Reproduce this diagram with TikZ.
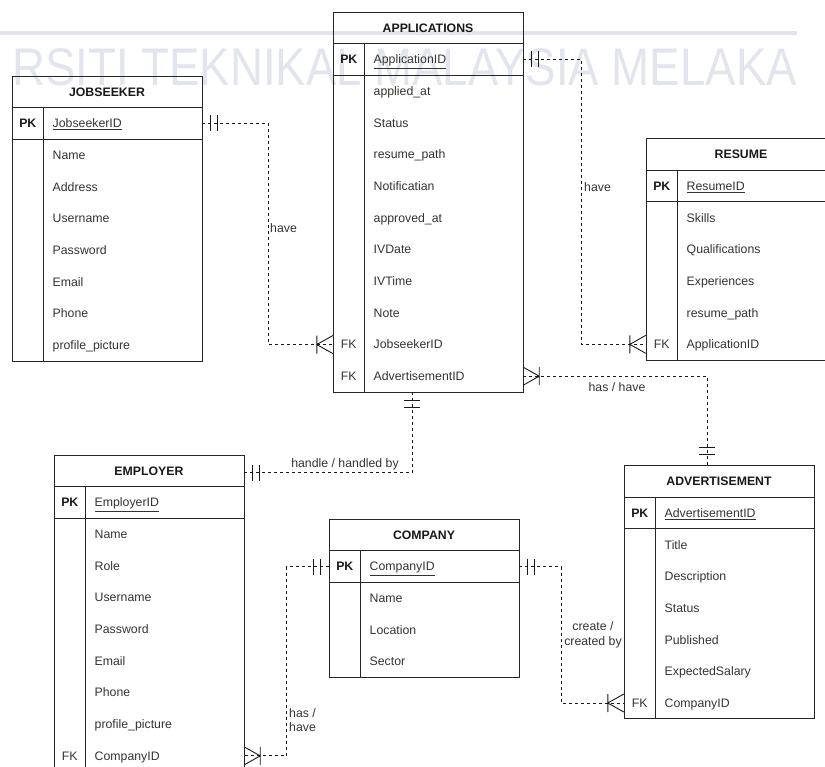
\documentclass[tikz,border=0pt]{standalone}
\usepackage{fontspec}
\setmainfont{Liberation Sans}
\definecolor{wm}{RGB}{226,229,237}
\definecolor{attrc}{RGB}{51,51,51}
\newcommand\erfont{\fontsize{12.3}{14.5}\selectfont}
\newcommand\ertbl[7]{%
  \node[rowbox] (#1) at ({#2+95},{#3+15.83}) {};
  \node[hdr] (#1-title) at ({#2+95},{#3+20.2}) {#4};
  \node[rowbox] (#1-pk) at ({#2+95},{#3+47.5}) {};
  \node[pkkey] (#1-pkk) at ({#2+15.83},{#3+51.9}) {PK};
  \node[attr] (#1-pkt) at ({#2+40.5},{#3+51.9}) {\underline{#5}};
  \foreach [count=\i] \ky/\tx in {#7} {
    \node[rowbox] (#1-\i) at ({#2+95},{#3+(1.5+\i)*31.67}) {};
    \node[fkkey] (#1-\i-k) at ({#2+15.83},{#3+(1.5+\i)*31.67+4.4}) {\ky};
    \node[attr] (#1-\i-t) at ({#2+40.5},{#3+(1.5+\i)*31.67+4.4}) {\tx};
  }
  \draw[tbl] (#2,#3) rectangle ({#2+190},{#3+(2+#6)*31.67});
  \draw[tbl] (#2,{#3+31.67}) -- ++(190,0);
  \draw[tbl] (#2,{#3+63.34}) -- ++(190,0);
  \draw[tbl] ({#2+31.67},{#3+31.67}) -- ({#2+31.67},{#3+(2+#6)*31.67});
}
\begin{document}
\begin{tikzpicture}[x=1pt,y=-1pt,
  tbl/.style={draw=black!85,line width=0.9pt},
  hdr/.style={anchor=base,inner sep=0pt,font=\erfont\bfseries,text=black!90},
  rowbox/.style={minimum width=190pt,minimum height=31.67pt,inner sep=0pt,draw=none},
  pkkey/.style={anchor=base,inner sep=0pt,font=\erfont\bfseries,text=black!90},
  fkkey/.style={anchor=base,inner sep=0pt,font=\erfont,text=attrc},
  attr/.style={anchor=base west,inner sep=0pt,font=\erfont,text=attrc},
  rel/.style={draw=black!90,line width=0.85pt,dash pattern=on 3pt off 3pt},
  lbl/.style={inner sep=0pt,font=\erfont,text=attrc},
  mand/.pic={\draw[solid,line width=0.9pt,black!90] (8,-8) -- (8,8) (15,-8) -- (15,8);},
  many/.pic={\draw[solid,line width=0.9pt,black!90] (0,-9) -- (16,0) -- (0,9) (16,-9) -- (16,9);}
]
\useasboundingbox (0,0) rectangle (825,767);
\clip (0,0) rectangle (825,767);

% faint watermark
\fill[wm] (0,31) rectangle (797,35);
\node[anchor=base east,inner sep=0pt,text=wm,font=\fontsize{53}{53}\selectfont,xscale=0.86] (wmtext) at (797,86) {RSITI TEKNIKAL MALAYSIA MELAKA};

% tables
\ertbl{js}{12}{76}{JOBSEEKER}{JobseekerID}{7}{{}/Name,{}/Address,{}/Username,{}/Password,{}/Email,{}/Phone,{}/profile\_picture}
\ertbl{ap}{333}{12}{APPLICATIONS}{ApplicationID}{10}{{}/applied\_at,{}/Status,{}/resume\_path,{}/Notificatian,{}/approved\_at,{}/IVDate,{}/IVTime,{}/Note,FK/JobseekerID,FK/AdvertisementID}
\ertbl{rs}{646}{138.5}{RESUME}{ResumeID}{5}{{}/Skills,{}/Qualifications,{}/Experiences,{}/resume\_path,FK/ApplicationID}
\ertbl{em}{54}{455}{EMPLOYER}{EmployerID}{8}{{}/Name,{}/Role,{}/Username,{}/Password,{}/Email,{}/Phone,{}/profile\_picture,FK/CompanyID}
\ertbl{co}{329}{519}{COMPANY}{CompanyID}{3}{{}/Name,{}/Location,{}/Sector}
\ertbl{ad}{624}{465.5}{ADVERTISEMENT}{AdvertisementID}{6}{{}/Title,{}/Description,{}/Status,{}/Published,{}/ExpectedSalary,FK/CompanyID}

% JOBSEEKER -- APPLICATIONS
\draw[rel] (js-pk.east) -- ++(66,0) coordinate (c1) |- (ap-9.west);
\pic at (js-pk.east) {mand};
\pic[rotate=180] at (ap-9.west) {many};
\node[lbl,anchor=west] (l1) at (270,228) {have};

% APPLICATIONS -- RESUME
\draw[rel] (ap-pk.east) -- ++(58,0) coordinate (c2) |- (rs-5.west);
\pic at (ap-pk.east) {mand};
\pic[rotate=180] at (rs-5.west) {many};
\node[lbl,anchor=west] (l2) at (584,187) {have};

% APPLICATIONS -- ADVERTISEMENT
\draw[rel] (ap-10.east) -- ++(184,0) coordinate (c3) -- (c3 |- ad.north);
\coordinate (c3b) at ([yshift=3pt]c3 |- ad.north);
\pic at (ap-10.east) {many};
\pic[rotate=90] at (c3b) {mand};
\node[lbl] (l3) at (617,387) {has / have};

% APPLICATIONS -- EMPLOYER
\coordinate (c4) at ([xshift=-16pt]ap-10.south);
\coordinate (c4b) at ([yshift=-2pt]em.east);
\draw[rel] (c4) |- (c4b);
\pic[rotate=-90] at (c4) {mand};
\pic at (c4b) {mand};
\node[lbl] (l4) at (345,464) {handle / handled by};

% COMPANY -- EMPLOYER
\draw[rel] (co-pk.west) -- ++(-42,0) coordinate (c5) |- (em-8.east);
\pic[rotate=180] at (co-pk.west) {mand};
\pic at (em-8.east) {many};
\node[lbl,anchor=west,align=left] (l5) at (289,720) {has /\\have};

% COMPANY -- ADVERTISEMENT
\draw[rel] (co-pk.east) -- ++(42,0) coordinate (c6) |- (ad-6.west);
\pic at (co-pk.east) {mand};
\pic[rotate=180] at (ad-6.west) {many};
\node[lbl,align=center] (l6) at (593,635) {create /\\created by};
\end{tikzpicture}
\end{document}
